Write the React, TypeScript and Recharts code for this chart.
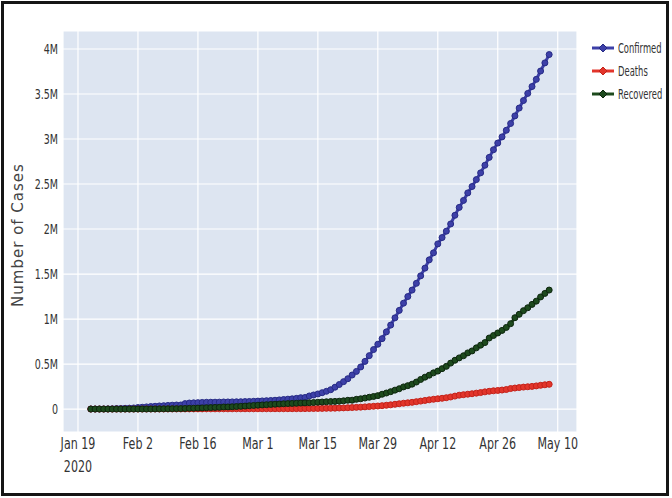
import { LineChart, Line, XAxis, YAxis, CartesianGrid } from 'recharts'

// day index 0 = Jan 22 2020, last point = May 8 2020
const confirmed = [
  555, 654, 941, 1434, 2118, 2927, 5578, 6166, 8234, 9927,
  12038, 16787, 19881, 23892, 27635, 30794, 34391, 37120, 40150, 42762,
  44802, 45221, 60368, 66885, 69030, 71224, 73258, 75136, 75639, 76197,
  76819, 78572, 78958, 79561, 80406, 81388, 82746, 84112, 86011, 88369,
  90306, 92840, 95120, 97886, 101801, 105847, 109821, 113590, 118620, 125875,
  128352, 145205, 156101, 167454, 181574, 197102, 214821, 242570, 272208, 304507,
  336953, 378235, 418045, 467653, 529591, 593291, 660706, 720117, 782365, 857487,
  932605, 1013157, 1095917, 1176060, 1249754, 1321481, 1396476, 1479804, 1565278, 1657526,
  1735650, 1834721, 1904838, 1976191, 2056054, 2152437, 2240190, 2317758, 2401378, 2472258,
  2549123, 2624090, 2708403, 2795989, 2881140, 2955033, 3023722, 3097229, 3172287, 3256846,
  3343777, 3427584, 3506729, 3583055, 3662691, 3755341, 3845718, 3938064,
]

const deaths = [
  17, 18, 26, 42, 56, 82, 131, 133, 171, 213,
  259, 362, 426, 492, 564, 634, 719, 806, 906, 1013,
  1113, 1118, 1371, 1523, 1666, 1770, 1868, 2007, 2122, 2247,
  2251, 2458, 2469, 2629, 2708, 2770, 2814, 2872, 2941, 2996,
  3085, 3160, 3254, 3348, 3460, 3558, 3802, 3988, 4262, 4615,
  4720, 5404, 5819, 6440, 7126, 7905, 8733, 9867, 11299, 12973,
  14623, 16497, 18615, 21181, 23970, 27198, 30652, 33925, 37582, 42107,
  46809, 52983, 58787, 64606, 69374, 74565, 81865, 88338, 95455, 102525,
  108503, 114091, 119482, 125984, 134176, 143800, 153821, 159509, 165043, 169986,
  176583, 183066, 190858, 197159, 202846, 206544, 211167, 217153, 227638, 233388,
  238650, 243808, 247470, 251537, 257239, 263855, 269567, 274898,
]

const recovered = [
  28, 30, 36, 39, 52, 61, 107, 126, 143, 222,
  284, 472, 623, 852, 1124, 1487, 2011, 2616, 3244, 3946,
  4683, 5150, 6295, 8058, 9395, 10865, 12583, 14352, 16121, 18177,
  18890, 22886, 23394, 25227, 27905, 30384, 33277, 36711, 39782, 42716,
  45602, 48228, 51170, 53796, 55865, 58358, 60694, 62494, 64404, 67003,
  68324, 70251, 72624, 76034, 78088, 80840, 83207, 84854, 87256, 91499,
  97704, 98326, 107998, 113770, 122140, 130910, 139455, 149074, 164514, 178013,
  193157, 210191, 225797, 246143, 260012, 276515, 300054, 328661, 353975, 376096,
  402110, 421722, 448655, 474261, 510214, 541813, 568343, 592319, 623903, 645738,
  679819, 709694, 738486, 789014, 817228, 845056, 873567, 906988, 948425, 1014753,
  1052415, 1093112, 1125236, 1162724, 1198832, 1245413, 1284741, 1322050,
]

const xTicks = [-3, 11, 25, 39, 53, 67, 81, 95, 109]
const xTickLabels = ['Jan 19', 'Feb 2', 'Feb 16', 'Mar 1', 'Mar 15', 'Mar 29', 'Apr 12', 'Apr 26', 'May 10']
const yTicks = [0, 500000, 1000000, 1500000, 2000000, 2500000, 3000000, 3500000, 4000000]
const yTickLabels = ['0', '0.5M', '1M', '1.5M', '2M', '2.5M', '3M', '3.5M', '4M']

const series = [
  { key: 'confirmed', name: 'Confirmed', fill: '#3d40a8', stroke: '#262a85' },
  { key: 'deaths', name: 'Deaths', fill: '#e2352b', stroke: '#c4221a' },
  { key: 'recovered', name: 'Recovered', fill: '#1d4a1d', stroke: '#0d260e' },
]

const data = confirmed.map((c, i) => ({
  day: i,
  confirmed: c,
  deaths: deaths[i],
  recovered: recovered[i],
}))

const tickFont = "'DejaVu Sans', sans-serif"
const textColor = '#333333'

// the reference text is tall and narrow, so squeeze it horizontally
function XTick(props: any) {
  const { x, y, payload } = props
  const idx = xTicks.indexOf(payload.value)
  return (
    <g transform={`translate(${x},${y}) scale(0.74,1)`}>
      <text x={0} y={9} textAnchor="middle" fontSize={15} fill={textColor} fontFamily={tickFont}>
        {xTickLabels[idx]}
      </text>
      {idx === 0 && (
        <text x={0} y={32} textAnchor="middle" fontSize={15} fill={textColor} fontFamily={tickFont}>
          2020
        </text>
      )}
    </g>
  )
}

function YTick(props: any) {
  const { x, y, payload } = props
  const idx = yTicks.indexOf(payload.value)
  return (
    <g transform={`translate(${x + 3},${y}) scale(0.68,1)`}>
      <text x={0} y={5} textAnchor="end" fontSize={14} fill={textColor} fontFamily={tickFont}>
        {yTickLabels[idx]}
      </text>
    </g>
  )
}

function LegendBox() {
  return (
    <div
      style={{
        position: 'absolute',
        left: 591,
        top: 36,
        fontFamily: tickFont,
        fontSize: 14,
        color: textColor,
      }}
    >
      {series.map(s => (
        <div key={s.key} style={{ display: 'flex', alignItems: 'center', height: 23 }}>
          <svg width={24} height={10} style={{ marginRight: 3 }}>
            <line x1={1} y1={5} x2={23} y2={5} stroke={s.fill} strokeWidth={3} />
            <path d="M12 1 L16 5 L12 9 L8 5 Z" fill={s.fill} stroke={s.stroke} strokeWidth={1} />
          </svg>
          <span style={{ display: 'inline-block', transform: 'scaleX(0.6)', transformOrigin: 'left center', whiteSpace: 'nowrap' }}>
            {s.name}
          </span>
        </div>
      ))}
    </div>
  )
}

export default function App() {
  return (
    <div style={{ position: 'absolute', left: 0, top: 0, width: 672, height: 498, background: '#fff' }}>
      <LineChart width={672} height={498} data={data} margin={{ top: 31, right: 95, bottom: 0, left: 0 }}>
        <CartesianGrid fill="#dde5f1" stroke="#ffffff" strokeWidth={1.2} />
        <XAxis
          dataKey="day"
          type="number"
          domain={[-6.5, 113.5]}
          ticks={xTicks}
          interval={0}
          axisLine={false}
          tickLine={false}
          height={66}
          tick={<XTick />}
        />
        <YAxis
          type="number"
          domain={[-255000, 4200000]}
          ticks={yTicks}
          interval={0}
          axisLine={false}
          tickLine={false}
          width={63}
          tick={<YTick />}
        />
        {series.map(s => (
          <Line
            key={s.key}
            type="linear"
            dataKey={s.key}
            name={s.name}
            stroke={s.fill}
            strokeWidth={3}
            dot={{ r: 3, fill: s.fill, stroke: s.stroke, strokeWidth: 1 }}
            isAnimationActive={false}
          />
        ))}
      </LineChart>
      <LegendBox />
      <div
        style={{
          position: 'absolute',
          left: 18,
          top: 235,
          transform: 'translate(-50%, -50%) rotate(-90deg)',
          whiteSpace: 'nowrap',
          fontFamily: "'DejaVu Sans', sans-serif",
          fontSize: 15,
          letterSpacing: 1,
          color: '#444444',
        }}
      >
        Number of Cases
      </div>
      <div
        style={{
          position: 'absolute',
          left: 1,
          top: 1,
          width: 668,
          height: 495,
          border: '3px solid #151515',
          boxSizing: 'border-box',
          pointerEvents: 'none',
        }}
      />
    </div>
  )
}
